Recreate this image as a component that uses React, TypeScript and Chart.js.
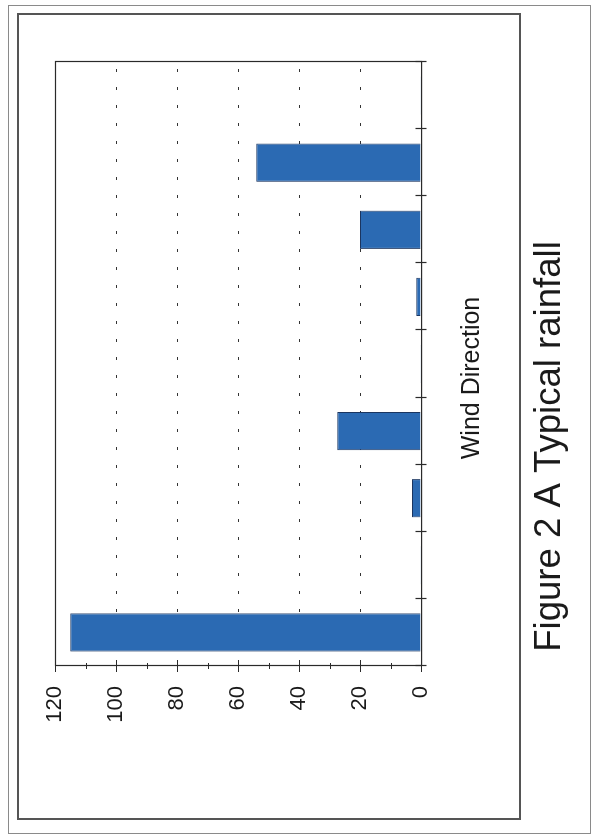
import React, { useEffect, useRef } from "react";
import { Chart, registerables } from "chart.js";

Chart.register(...registerables);

// ---- data ----
const categories = ["N", "NE", "E", "SE", "S", "SW", "W", "NW", "Calm"];
const rainfall = [115, 0.3, 3, 27.5, 0.3, 1.6, 20, 54, 0.3];
const majorTicks = [0, 20, 40, 60, 80, 100, 120];
const minorTicks = [10, 30, 50, 70, 90, 110];
const axisTitle = "Wind Direction";
const figureTitle = "Figure 2 A Typical rainfall";

const FONT = "'Liberation Sans', Arial, Helvetica, sans-serif";
const CW = 839;
const CH = 597;

const framePlugin = {
  id: "plotFrame",
  afterDatasetsDraw(chart: any) {
    const { ctx, chartArea: a } = chart;
    const y = chart.scales.y;
    ctx.save();
    ctx.strokeStyle = "#2a2a2a";
    ctx.lineWidth = 1.2;
    ctx.strokeRect(a.left + 0.5, a.top + 0.5, a.right - a.left, a.bottom - a.top);
    ctx.beginPath();
    for (const v of majorTicks) {
      const p = Math.round(y.getPixelForValue(v)) + 0.5;
      ctx.moveTo(a.left - 6, p);
      ctx.lineTo(a.left + 6, p);
    }
    for (const v of minorTicks) {
      const p = Math.round(y.getPixelForValue(v)) + 0.5;
      ctx.moveTo(a.left - 3, p);
      ctx.lineTo(a.left + 3, p);
    }
    const n = categories.length;
    for (let i = 0; i <= n; i++) {
      const p = Math.round(a.left + (i * (a.right - a.left)) / n) + 0.5;
      ctx.moveTo(p, a.bottom - 5.5);
      ctx.lineTo(p, a.bottom + 5.5);
    }
    ctx.stroke();
    // category axis title
    ctx.fillStyle = "#1a1a1a";
    ctx.font = `25px ${FONT}`;
    ctx.textAlign = "center";
    ctx.textBaseline = "middle";
    ctx.fillText(axisTitle, (a.left + a.right) / 2 - 14, a.bottom + 51);
    ctx.restore();
  },
};

export default function App() {
  const ref = useRef<HTMLCanvasElement | null>(null);

  useEffect(() => {
    if (!ref.current) return;
    const chart = new Chart(ref.current, {
      type: "bar",
      data: {
        labels: categories,
        datasets: [
          {
            data: rainfall,
            backgroundColor: "#2b6ab3",
            borderColor: "#1b3560",
            borderWidth: 1,
            categoryPercentage: 1,
            barPercentage: 0.57,
          },
        ],
      },
      options: {
        responsive: false,
        animation: false,
        devicePixelRatio: 1,
        layout: { padding: { top: 55, bottom: 25, left: 8, right: 62 } },
        plugins: {
          legend: { display: false },
          tooltip: { enabled: false },
          title: {
            display: true,
            position: "bottom",
            text: figureTitle,
            color: "#1a1a1a",
            font: { family: FONT, size: 36.6, weight: "normal" },
            padding: { top: 42, bottom: 0 },
          },
        },
        scales: {
          x: {
            ticks: { display: false },
            grid: { display: false },
            border: { display: false },
            afterFit: (s: any) => {
              s.height = 65;
            },
          },
          y: {
            min: 0,
            max: 120,
            ticks: {
              stepSize: 20,
              padding: 20,
              color: "#1a1a1a",
              font: { family: FONT, size: 22 },
            },
            grid: {
              drawTicks: false,
              lineWidth: 1,
              color: (c: any) =>
                c.tick && (c.tick.value === 0 || c.tick.value === 120)
                  ? "rgba(0,0,0,0)"
                  : "#333",
            },
            border: { display: false, dash: [3, 15] },
            afterFit: (s: any) => {
              s.width = 165;
            },
          },
        },
      },
      plugins: [framePlugin],
    });
    return () => chart.destroy();
  }, []);

  return (
    <div
      style={{
        position: "absolute",
        left: 0,
        top: 0,
        width: 597,
        height: 839,
        overflow: "hidden",
        background: "#fff",
      }}
    >
      <canvas
        ref={ref}
        width={CW}
        height={CH}
        style={{
          position: "absolute",
          left: 0,
          top: 0,
          width: CW,
          height: CH,
          transformOrigin: "0 0",
          transform: `translateY(${CW}px) rotate(-90deg)`,
        }}
      />
      <div
        style={{
          position: "absolute",
          left: 8,
          top: 5,
          width: 583,
          height: 829,
          border: "1px solid #8a8a8a",
          boxSizing: "border-box",
          pointerEvents: "none",
        }}
      />
      <div
        style={{
          position: "absolute",
          left: 17,
          top: 13,
          width: 504,
          height: 807,
          border: "2px solid #555",
          boxSizing: "border-box",
          pointerEvents: "none",
        }}
      />
    </div>
  );
}
